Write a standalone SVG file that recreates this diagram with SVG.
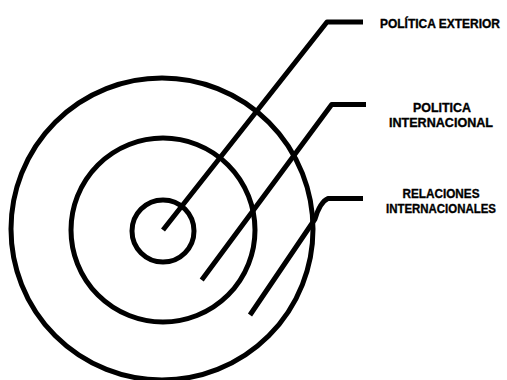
<svg xmlns="http://www.w3.org/2000/svg" width="507" height="380" viewBox="0 0 507 380">
<style>
.ring{fill:none;stroke:#000;stroke-width:5}
.conn{fill:none;stroke:#000;stroke-width:5;stroke-linejoin:round;stroke-linecap:butt}
.lbl{font-family:"Liberation Sans",Arial,sans-serif;font-weight:bold;font-size:12.5px;fill:#000;stroke:#000;stroke-width:0.35}
</style>
<rect width="507" height="380" fill="#fff"/>
<g id="rings">
<circle id="ring-outer" class="ring" cx="162" cy="229" r="151"/>
<circle id="ring-middle" class="ring" cx="163" cy="230" r="92"/>
<circle id="ring-inner" class="ring" cx="163" cy="231" r="31"/>
</g>
<g id="connectors">
<path class="conn" d="M163,230 L327,22 L363,22"/>
<path class="conn" d="M201.7,280 L331.7,104.5 L366,104.5"/>
<path class="conn" d="M250,315 L315,219 Q320,202 328,198.5 L363,198.5"/>
</g>
<g id="label-politica-exterior">
<text class="lbl" x="380" y="28" textLength="120" lengthAdjust="spacingAndGlyphs">POLÍTICA EXTERIOR</text>
</g>
<g id="label-politica-internacional">
<text class="lbl" x="442" y="112" text-anchor="middle" textLength="58" lengthAdjust="spacingAndGlyphs">POLITICA</text>
<text class="lbl" x="441" y="127" text-anchor="middle" textLength="104" lengthAdjust="spacingAndGlyphs">INTERNACIONAL</text>
</g>
<g id="label-relaciones-internacionales">
<text class="lbl" x="441" y="198" text-anchor="middle" textLength="77" lengthAdjust="spacingAndGlyphs">RELACIONES</text>
<text class="lbl" x="441" y="213" text-anchor="middle" textLength="110" lengthAdjust="spacingAndGlyphs">INTERNACIONALES</text>
</g>
</svg>
